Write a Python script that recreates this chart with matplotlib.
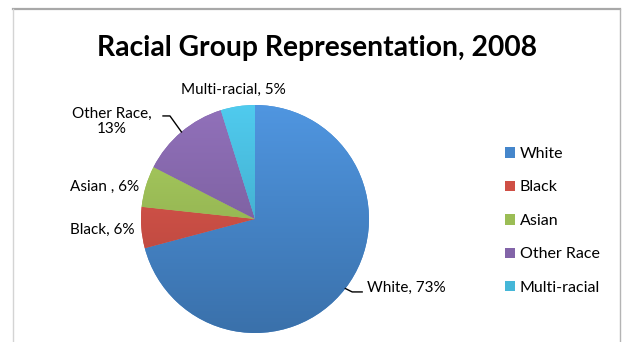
import numpy as np
import matplotlib
matplotlib.use('Agg')
import matplotlib.pyplot as plt
from matplotlib.lines import Line2D
from matplotlib.colors import to_rgb

# data
groups = ['White', 'Black', 'Asian', 'Other Race', 'Multi-racial']
shares = [73, 6, 6, 13, 5]
slice_labels = ['White, 73%', 'Black, 6%', 'Asian , 6%', 'Other Race,\n13%', 'Multi-racial, 5%']
colors = ['#4586cb', '#cf4f45', '#9bbd55', '#8264a8', '#45b7d8']
title = 'Racial Group Representation, 2008'

plt.rcParams['font.family'] = ['Lato', 'DejaVu Sans']

W, H = 622, 342
fig = plt.figure(figsize=(W / 100, H / 100), dpi=100)

# chart frame
fig.add_artist(Line2D([13 / W, 620 / W], [1 - 9 / H] * 2, color='#a8a8a8', lw=1.6))
fig.add_artist(Line2D([13 / W, 13 / W], [0, 1 - 9 / H], color='#d4d4d4', lw=1.0))
fig.add_artist(Line2D([620 / W, 620 / W], [0, 1 - 9 / H], color='#b4b4b4', lw=1.0))

fig.text(317 / W, 1 - 48 / H, title, ha='center', va='center', fontsize=20.3, fontweight='bold')

# pie, centre (255, 219) px, radius 114 px
ax = fig.add_axes([141 / W, 9 / H, 228 / W, 228 / H])
wedges, _ = ax.pie(shares, colors=colors, startangle=90, counterclock=False, radius=1,
                   wedgeprops=dict(linewidth=0))

# office-style vertical shading on each slice
t = np.linspace(0, 1, 200)[:, None, None]
for w, c in zip(wedges, colors):
    rgb = np.array(to_rgb(c))
    top = np.clip(rgb * 1.08 + 0.02, 0, 1)
    bot = rgb * 0.84
    grad = top * (1 - t) + bot * t
    im = ax.imshow(grad, extent=(-1, 1, -1, 1), aspect='auto', interpolation='bilinear', zorder=w.get_zorder() + 0.1)
    im.set_clip_path(w)

ax.set_xlim(-1, 1)
ax.set_ylim(-1, 1)
ax.set_aspect('equal')
ax.axis('off')

# label layout: (x, y, ha) in data units
layout = [(0.982, -0.605, 'left'),
          (-1.061, -0.096, 'right'),
          (-1.018, 0.281, 'right'),
          (-1.254, 0.855, 'center'),
          (-0.193, 1.132, 'center')]
for w, txt, (tx, ty, ha) in zip(wedges, slice_labels, layout):
    ax.text(tx, ty, txt, ha=ha, va='center', fontsize=11, multialignment='center',
            linespacing=1.15, clip_on=False)

# leader lines
mid = np.deg2rad((wedges[0].theta1 + wedges[0].theta2) / 2)
p0 = np.array([np.cos(mid), np.sin(mid)])
ax.plot([p0[0], p0[0] + 0.06, 0.94], [p0[1], p0[1] - 0.03, p0[1] - 0.03], color='black', lw=1, clip_on=False)
mid = np.deg2rad((wedges[3].theta1 + wedges[3].theta2) / 2)
p0 = np.array([np.cos(mid), np.sin(mid)])
ax.plot([p0[0], -0.746, -0.807], [p0[1], 0.904, 0.904], color='black', lw=1, clip_on=False)

leg = fig.legend(wedges, groups, loc='upper left', bbox_to_anchor=(505 / W, 1 - 147 / H),
                 frameon=False, fontsize=11.5, handlelength=0.62, handleheight=0.62,
                 handletextpad=0.3, labelspacing=1.22, borderpad=0, borderaxespad=0)

fig.savefig('out.png', dpi=100)
